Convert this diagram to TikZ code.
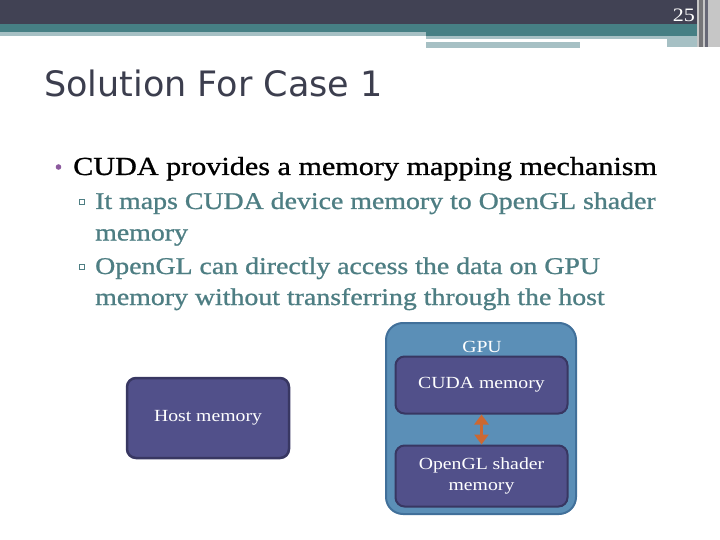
\documentclass[tikz,border=0pt]{standalone}
\usepackage{fontspec}
\usepackage{tikz}
\usepackage{xcolor}
\usetikzlibrary{arrows.meta}
\newfontfamily\bodyfont[FakeStretch=1.16]{Liberation Serif}
\newfontfamily\bulletfont[FakeStretch=1.16, FakeBold=1]{Liberation Serif}
\newfontfamily\titlefont{DejaVu Sans}
\definecolor{hdrdark}{RGB}{65,66,84}
\definecolor{hdrteal}{RGB}{70,127,132}
\definecolor{hdrlight}{RGB}{166,192,196}
\definecolor{titlecol}{RGB}{60,62,78}
\definecolor{subcol}{RGB}{78,126,131}
\definecolor{dotcol}{RGB}{140,90,158}
\definecolor{gpufill}{RGB}{91,143,183}
\definecolor{gpuline}{RGB}{65,112,154}
\definecolor{memfill}{RGB}{81,80,138}
\definecolor{memline}{RGB}{56,55,98}
\definecolor{linkcol}{RGB}{204,104,50}

\begin{document}
\begin{tikzpicture}[x=1pt, y=-1pt,
    membox/.style={draw=memline, line width=2pt, fill=memfill, rounded corners=9pt,
        text=white, font=\bodyfont\fontsize{17}{21}\selectfont, align=center},
    subitem/.style={anchor=base west, inner sep=0, text=subcol,
        font=\bulletfont\fontsize{24}{28}\selectfont}]
    \useasboundingbox (0,0) rectangle (720,540);

    % Header bands
    \fill[hdrdark] (0,0) rectangle (720,24);
    \fill[hdrteal] (0,24) rectangle (720,32);
    \fill[hdrlight] (0,32) rectangle (426,36);
    \fill[hdrteal] (426,32) rectangle (697,36);
    \fill[hdrlight] (426,36) rectangle (667,39);
    \fill[hdrlight] (426,42) rectangle (580,48);
    \fill[hdrlight] (667,36) rectangle (697,47);
    \fill[gray!45] (697,0) rectangle (720,47);
    \fill[gray!85!hdrdark] (699,0) rectangle (703,47);
    \fill[hdrdark!80] (705,0) rectangle (708,47);
    \node[anchor=base east, inner sep=0, text=white,
        font=\bodyfont\fontsize{19}{19}\selectfont] (pagenum) at (695,22) {25};

    % Title
    \node[anchor=base west, inner sep=0, text=titlecol,
        font=\titlefont\fontsize{35}{40}\selectfont] (title) at (44,97) {Solution For Case 1};

    % Bullets
    \fill[dotcol] (58.5,167) circle (2.8);
    \node[anchor=base west, inner sep=0,
        font=\bulletfont\fontsize{26}{30}\selectfont] (main) at (73,175)
        {CUDA provides a memory mapping mechanism};
    \draw[subcol, line width=0.8pt] (79,199.5) rectangle (84,204.5);
    \node[subitem] (subA) at (95,209) {It maps CUDA device memory to OpenGL shader};
    \node[subitem] (subAb) at (95,240.5) {memory};
    \draw[subcol, line width=0.8pt] (79,264.5) rectangle (84,269.5);
    \node[subitem] (subB) at (95,274) {OpenGL can directly access the data on GPU};
    \node[subitem] (subBb) at (95,305) {memory without transferring through the host};

    % GPU with its two memories
    \node[draw=gpuline, line width=2pt, fill=gpufill, rounded corners=17pt,
        minimum width=190pt, minimum height=191pt] (gpu) at (481,418.5) {};
    \node[text=white, font=\bodyfont\fontsize{17}{21}\selectfont] (gpulabel) at (482,347) {GPU};
    \node[membox, minimum width=172pt, minimum height=57pt] (cuda) at (481.5,385) {CUDA memory};
    \node[membox, minimum width=172pt, minimum height=61pt] (ogl) at (481.5,476)
        {OpenGL shader\\memory};
    \draw[{Triangle[length=10pt,width=14pt]}-{Triangle[length=10pt,width=14pt]},
        linkcol, line width=3pt] (cuda) -- (ogl);

    % Host memory
    \node[membox, line width=2.5pt, minimum width=162pt, minimum height=80pt] (host) at (208,418)
        {Host memory};
\end{tikzpicture}
\end{document}
